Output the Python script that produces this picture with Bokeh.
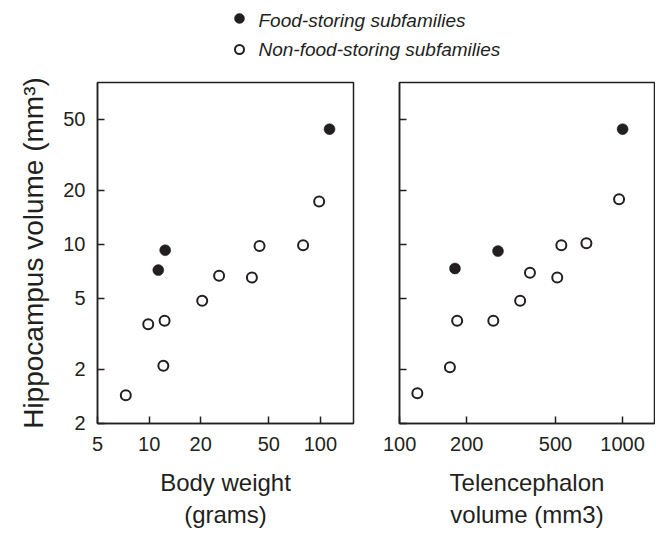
from bokeh.plotting import figure
from bokeh.layouts import column, row
from bokeh.models import Range1d, FixedTicker
from bokeh.core.properties import value
from bokeh.embed import file_html
from bokeh.resources import INLINE

FONT = "Liberation Sans"
INK = "#231f20"

# ---- data ----
legend_labels = ["Food-storing subfamilies", "Non-food-storing subfamilies"]

body_food = [113, 12.4, 11.3]
hippo_food_left = [43.9, 9.25, 7.16]
body_non = [7.3, 12.1, 9.87, 12.3, 20.4, 25.6, 39.8, 44.1, 79.2, 98.3]
hippo_non_left = [1.43, 2.09, 3.57, 3.73, 4.82, 6.65, 6.51, 9.75, 9.87, 17.3]

tel_food = [1000, 276, 177]
hippo_food_right = [43.9, 9.14, 7.31]
tel_non = [120, 168, 181, 263, 347, 384, 509, 531, 688, 964]
hippo_non_right = [1.47, 2.05, 3.73, 3.73, 4.82, 6.92, 6.51, 9.87, 10.1, 17.8]

y_ticks = [1, 2, 5, 10, 20, 50]
y_tick_labels = ["2", "2", "5", "10", "20", "50"]
x1_ticks = [5, 10, 20, 50, 100]
x1_tick_labels = ["5", "10", "20", "50", "100"]
x2_ticks = [100, 200, 500, 1000]
x2_tick_labels = ["100", "200", "500", "1000"]

y_title = "Hippocampus volume (mm\u00b3)"
x1_title = "Body weight\n(grams)"
x2_title = "Telencephalon\nvolume (mm3)"


def panel(width, bl, br, xr, xticks, xlabels, xtitle, show_ylabels):
    p = figure(width=width, height=464, x_axis_type="log", y_axis_type="log",
               x_range=xr, y_range=Range1d(0.995, 80),
               output_backend="svg", toolbar_location=None,
               min_border_left=bl, min_border_right=br,
               min_border_top=10, min_border_bottom=113)
    p.grid.visible = False
    p.background_fill_color = "white"
    p.border_fill_color = "white"
    p.outline_line_color = INK
    p.outline_line_width = 1.5
    p.outline_line_alpha = 1
    p.xaxis.ticker = FixedTicker(ticks=xticks, minor_ticks=[])
    p.yaxis.ticker = FixedTicker(ticks=y_ticks, minor_ticks=[])
    p.xaxis.major_label_overrides = dict(zip(xticks, xlabels))
    if show_ylabels:
        p.yaxis.major_label_overrides = dict(zip(y_ticks, y_tick_labels))
        p.yaxis.axis_label = y_title
    else:
        p.yaxis.major_label_overrides = {t: "" for t in y_ticks}
        p.yaxis.major_label_standoff = 0
    p.xaxis.axis_label = xtitle
    for ax in p.axis:
        ax.axis_line_color = INK
        ax.axis_line_width = 1.5
        ax.major_tick_line_color = INK
        ax.major_tick_line_width = 1.5
        ax.major_tick_in = 7
        ax.major_tick_out = 0
        ax.minor_tick_line_color = None
        ax.major_label_text_font = FONT
        ax.major_label_text_font_size = "20px"
        ax.major_label_text_color = INK
        ax.axis_label_text_font = FONT
        ax.axis_label_text_font_style = "normal"
        ax.axis_label_text_color = INK
    p.xaxis.major_label_standoff = 13
    p.xaxis.axis_label_standoff = 15
    p.xaxis.axis_label_text_font_size = "24px"
    if show_ylabels:
        p.yaxis.major_label_standoff = 12
        p.yaxis.axis_label_standoff = 11
        p.yaxis.axis_label_text_font_size = "28px"
    return p


p1 = panel(376, 97, 23, Range1d(4.99, 156), x1_ticks, x1_tick_labels, x1_title, True)
p1.scatter(body_non, hippo_non_left, size=10, fill_color="white", line_color=INK, line_width=2)
p1.scatter(body_food, hippo_food_left, size=11, fill_color=INK, line_color=INK, line_width=0.5)

p2 = panel(279, 23, 1, Range1d(99.8, 1390), x2_ticks, x2_tick_labels, x2_title, False)
p2.scatter(tel_non, hippo_non_right, size=10, fill_color="white", line_color=INK, line_width=2)
p2.scatter(tel_food, hippo_food_right, size=11, fill_color=INK, line_color=INK, line_width=0.5)

# ---- legend strip ----
leg = figure(width=655, height=72, x_range=Range1d(0, 655), y_range=Range1d(72, 0),
             output_backend="svg", toolbar_location=None,
             x_axis_location=None, y_axis_location=None,
             min_border=0, min_border_left=0, min_border_right=0,
             min_border_top=0, min_border_bottom=0)
leg.grid.visible = False
leg.outline_line_color = None
leg.scatter([239], [18], size=10, fill_color=INK, line_color=INK, line_width=0.5)
leg.scatter([239], [49], size=9, fill_color="white", line_color=INK, line_width=2)
leg.text([258, 258], [20, 49], text=legend_labels, text_font=value(FONT),
         text_font_style="italic", text_font_size="19px", text_color=INK,
         text_baseline="middle", text_align="left")

layout = column(leg, row(p1, p2, spacing=0), spacing=0)

open("out.html", "w").write(file_html(layout, INLINE))
